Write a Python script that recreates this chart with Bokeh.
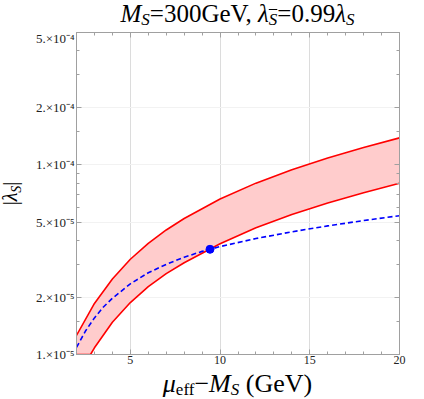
from bokeh.plotting import figure
from bokeh.models import FixedTicker, LogAxis, LinearAxis, Range1d, Div
from bokeh.layouts import column, row
from bokeh.embed import file_html
from bokeh.resources import INLINE

# ---- data ----
upper_mu = [2.0, 3.0, 4.0, 5.0, 6.0, 7.0, 8.0, 10.0, 12.0, 14.0, 16.0, 18.0, 20.0]
upper_lam = [1.26e-5, 1.86e-5, 2.50e-5, 3.18e-5, 3.86e-5, 4.54e-5, 5.22e-5,
             6.62e-5, 8.02e-5, 9.44e-5, 1.088e-4, 1.236e-4, 1.39e-4]

lower_mu = [2.0, 2.78, 3.0, 4.0, 5.0, 6.0, 7.0, 8.0, 10.0, 12.0, 14.0, 16.0, 18.0, 20.0]
lower_lam = [1.0e-5, 1.0e-5, 1.085e-5, 1.48e-5, 1.88e-5, 2.28e-5, 2.67e-5, 3.05e-5,
             3.84e-5, 4.66e-5, 5.48e-5, 6.30e-5, 7.14e-5, 8.00e-5]

blue_mu = [2.0, 2.5, 3.0, 3.5, 4.0, 5.0, 6.0, 7.0, 8.0, 9.0, 10.0, 12.0, 14.0, 16.0, 18.0, 20.0]
blue_lam = [1.09e-5, 1.33e-5, 1.56e-5, 1.78e-5, 1.98e-5, 2.36e-5, 2.70e-5, 2.99e-5,
            3.26e-5, 3.50e-5, 3.71e-5, 4.09e-5, 4.44e-5, 4.77e-5, 5.09e-5, 5.40e-5]

point_mu = [9.44]
point_lam = [3.59e-5]

x_major = [5, 10, 15, 20]
x_minor = [3, 4, 6, 7, 8, 9, 11, 12, 13, 14, 16, 17, 18, 19]
y_major = [1e-5, 2e-5, 5e-5, 1e-4, 2e-4, 5e-4]
y_major_labels = ["1.×10⁻⁵", "2.×10⁻⁵", "5.×10⁻⁵", "1.×10⁻⁴", "2.×10⁻⁴", "5.×10⁻⁴"]
y_minor = [1.5e-5, 3e-5, 4e-5, 6e-5, 7e-5, 8e-5, 9e-5, 1.5e-4, 3e-4, 4e-4]

SERIF = "Liberation Serif"
CSSFONT = "'Liberation Serif', 'Times New Roman', serif"
AX = "#a0a0a0"

p = figure(width=400, height=340, y_axis_type="log",
           x_range=Range1d(2, 20), y_range=Range1d(1e-5, 5e-4),
           output_backend="svg", toolbar_location=None, title=None,
           min_border_left=52, min_border_right=25, min_border_top=2, min_border_bottom=16)
p.background_fill_color = "white"
p.outline_line_color = AX

# band
p.patch(upper_mu + lower_mu[::-1], upper_lam + lower_lam[::-1],
        fill_color="#ffcccc", line_color=None)
p.line(upper_mu, upper_lam, line_color="#ff0000", line_width=1.6)
p.line(lower_mu, lower_lam, line_color="#ff0000", line_width=1.6)
p.line(blue_mu, blue_lam, line_color="#0000ff", line_width=1.6, line_dash="5 3")
p.scatter(point_mu, point_lam, size=8, color="#0000ff")

# axes
xt = FixedTicker(ticks=x_major, minor_ticks=x_minor)
yt = FixedTicker(ticks=y_major, minor_ticks=y_minor)


def style(ax, show):
    ax.axis_line_color = AX
    ax.major_tick_line_color = AX
    ax.minor_tick_line_color = AX
    ax.major_tick_in = 5
    ax.major_tick_out = 0
    ax.minor_tick_in = 3
    ax.minor_tick_out = 0
    ax.major_label_text_font = SERIF
    if show:
        ax.major_label_text_color = "#222222"
        ax.major_label_text_font_size = "12px"
        ax.major_label_standoff = 2
    else:
        ax.major_label_text_color = None
        ax.major_label_text_font_size = "1px"
        ax.major_label_standoff = 0


p.xaxis.ticker = xt
p.yaxis.ticker = yt
p.yaxis.major_label_overrides = {v: s for v, s in zip(y_major, y_major_labels)}
style(p.xaxis[0], True)
style(p.yaxis[0], True)
p.xaxis[0].major_label_standoff = 1
p.yaxis[0].major_label_text_font_size = "13px"

top = LinearAxis(ticker=xt)
style(top, False)
p.add_layout(top, "above")
right = LogAxis(ticker=yt)
style(right, False)
p.add_layout(right, "right")

p.xgrid.ticker = FixedTicker(ticks=x_major)
p.ygrid.ticker = FixedTicker(ticks=y_major)
p.xgrid.grid_line_color = "#dcdcdc"
p.ygrid.grid_line_color = "#f2f2f2"

SUB = "font-size:17px;position:relative;top:3px;"

title_html = (
    f'<div style="width:323px;margin-left:76px;text-align:center;'
    f'white-space:nowrap;font-family:{CSSFONT};font-size:25px;line-height:28px;color:black;">'
    f'<i>M</i><span style="{SUB}"><i>S</i></span>=300GeV, '
    f'<i>λ</i><span style="{SUB}"><i style="text-decoration:overline;">S</i></span>=0.99'
    f'<i>λ</i><span style="{SUB}"><i>S</i></span></div>'
)
xlab_html = (
    f'<div style="width:323px;margin-left:76px;text-align:center;'
    f'white-space:nowrap;font-family:{CSSFONT};font-size:26px;line-height:28.5px;color:black;">'
    f'<i>μ</i><span style="{SUB}">eff</span>−<i>M</i><span style="{SUB}"><i>S</i></span> (GeV)</div>'
)
ylab_html = (
    f'<div style="display:flex;align-items:center;justify-content:center;width:23px;'
    f'height:322px;margin-top:2px;margin-left:0.5px;">'
    f'<div style="transform:rotate(-90deg);white-space:nowrap;font-family:{CSSFONT};'
    f'font-size:20px;line-height:20px;color:black;">'
    f'|<i>λ</i><span style="font-size:14px;position:relative;top:4px;"><i>S</i></span>|</div></div>'
)

title_div = Div(text=title_html, width=424, height=30, margin=0)
ylab_div = Div(text=ylab_html, width=24, height=340, margin=0)
xlab_div = Div(text=xlab_html, width=424, height=29, margin=0)

layout = column(title_div, row(ylab_div, p, spacing=0), xlab_div, spacing=0)

open("out.html", "w").write(file_html(layout, INLINE))
